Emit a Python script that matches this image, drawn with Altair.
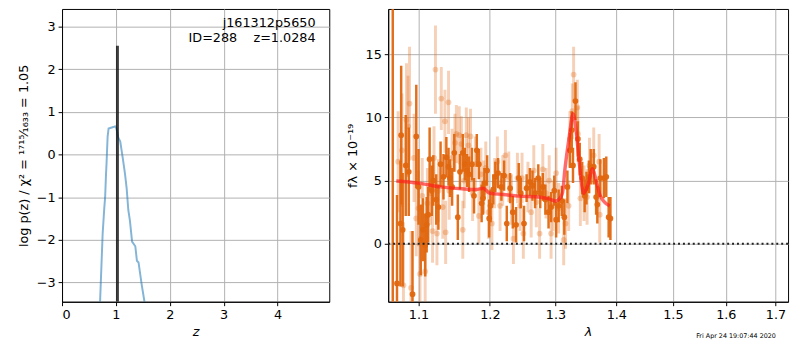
import altair as alt
import pandas as pd

FONT = "DejaVu Sans"
ORANGE = "#e0670f"

# ---------------- left panel: log p(z) ----------------
pz_z = [0.69, 0.706, 0.754, 0.785, 0.800, 0.815, 0.827, 0.846, 0.864, 0.937, 0.985, 1.01, 1.046,
        1.08, 1.13, 1.168, 1.20, 1.23, 1.26, 1.30, 1.36, 1.39, 1.42, 1.48, 1.53, 1.55]
pz_logp = [-3.9, -3.45, -1.85, -1.24, -1.0, -0.5, -0.18, 0.42, 0.61, 0.64, 0.66, 0.61, 0.39,
           0.31, -0.11, -0.45, -0.80, -1.30, -1.55, -2.04, -2.15, -2.49, -2.53, -3.06, -3.45, -3.7]
z_best = 1.0284
z_line_top = 2.55
z_ticks = [0, 1, 2, 3, 4]
logp_ticks = [-3, -2, -1, 0, 1, 2, 3]
z_domain = [0, 4.96]
logp_domain = [-3.45, 3.41]
label_root = "j161312p5650"
label_id = "ID=288\u00a0\u00a0\u00a0\u00a0z=1.0284"
ylab_left = "log p(z) / χ² = ¹⁷¹⁵⁄₁₆₃₃ = 1.05"

# ---------------- right panel: spectrum ----------------
dk_w = [1.066, 1.0715, 1.076, 1.077, 1.079, 1.083, 1.087, 1.092, 1.097, 1.100, 1.103, 1.106, 1.109,
        1.111, 1.113, 1.115, 1.118, 1.120, 1.124, 1.127, 1.130, 1.134, 1.138, 1.141, 1.143, 1.146,
        1.149, 1.154, 1.157, 1.161, 1.164, 1.167, 1.170, 1.174, 1.177, 1.181, 1.184, 1.188, 1.190,
        1.192, 1.196, 1.199, 1.201, 1.205, 1.208, 1.212, 1.217, 1.221, 1.225, 1.230, 1.234, 1.239,
        1.243, 1.246, 1.251, 1.255, 1.260, 1.264, 1.268, 1.273, 1.276, 1.280, 1.284, 1.289, 1.293,
        1.298, 1.301, 1.305, 1.310, 1.314, 1.319, 1.323, 1.326, 1.328, 1.332, 1.336, 1.339, 1.343,
        1.347, 1.350, 1.354, 1.357, 1.362, 1.366, 1.368, 1.373, 1.379, 1.383, 1.387, 1.390]
dk_f = [22.0, -3.15, 1.6, 8.6, 1.1, 6.2, 5.7, -4.0, 8.5, 4.5, 0.3, 1.1, -0.1,
        1.5, 2.3, 6.7, 4.2, 5.0, 3.5, 2.9, 6.3, 5.3, 6.85, 6.1, 5.2, 4.5,
        7.2, 2.1, 5.7, 7.2, 6.3, 5.8, 5.5, 6.3, 3.8, 7.4, 6.3, 3.2, 3.6,
        4.8, 5.8, 2.0, 3.0, 4.3, 5.3, 5.6, 4.5, 5.4, 1.6, 4.4, 2.5, 1.5,
        5.2, 4.0, 1.6, 4.4, 4.9, 4.6, 4.0, 5.2, 4.0, 4.5, 3.5, 2.5, 2.9,
        4.2, 1.9, 3.0, 3.4, 2.1, 4.5, 7.4, 9.0, 6.2, 11.3, 8.3, 6.7, 5.2,
        3.8, 4.4, 5.3, 6.1, 6.1, 3.7, 3.1, 5.2, 5.2, 5.3, 2.1, 2.0]
dk_e = [28.0, 7.0, 5.0, 5.5, 4.5, 4.0, 3.5, 5.0, 4.1, 3.0, 2.8, 2.5, 2.5,
        2.2, 2.2, 2.5, 2.0, 2.0, 2.0, 1.8, 1.8, 1.8, 1.6, 1.5, 1.5, 1.5,
        1.5, 1.8, 1.4, 1.5, 1.3, 1.3, 1.4, 1.3, 1.4, 1.3, 1.2, 1.5, 1.3,
        1.2, 1.2, 1.5, 1.3, 1.2, 1.2, 1.2, 1.1, 1.2, 1.4, 1.2, 1.3, 1.4,
        1.2, 1.2, 1.4, 1.1, 1.1, 1.2, 1.2, 1.1, 1.2, 1.1, 1.2, 1.3, 1.2,
        1.2, 1.4, 1.3, 1.2, 1.4, 1.3, 1.4, 1.5, 1.4, 1.5, 1.4, 1.3, 1.3,
        1.3, 1.3, 1.3, 1.4, 1.4, 1.4, 1.5, 1.5, 1.6, 1.6, 1.6, 1.7]

lt_w = [1.073, 1.078, 1.080, 1.084, 1.086, 1.088, 1.090, 1.094, 1.097, 1.100, 1.102, 1.105, 1.109,
        1.112, 1.116, 1.119, 1.121, 1.123, 1.125, 1.127, 1.131, 1.133, 1.136, 1.137, 1.141, 1.142,
        1.146, 1.150, 1.152, 1.156, 1.159, 1.161, 1.163, 1.166, 1.169, 1.172, 1.175, 1.179, 1.184,
        1.187, 1.191, 1.194, 1.198, 1.203, 1.207, 1.211, 1.215, 1.219, 1.223, 1.228, 1.232, 1.235,
        1.241, 1.245, 1.248, 1.250, 1.257, 1.262, 1.266, 1.270, 1.275, 1.280, 1.285, 1.290, 1.293,
        1.296, 1.301, 1.305, 1.313, 1.316, 1.321, 1.323, 1.327, 1.329, 1.335, 1.336, 1.340, 1.346,
        1.351, 1.355, 1.362, 1.371, 1.372]
lt_f = [6.5, 7.4, -3.3, 9.8, 9.3, 11.1, -3.5, 6.8, 2.0, 2.8, -2.4, 3.8, -2.2,
        3.2, 4.0, 1.0, 6.8, 13.8, 0.8, 4.2, 11.5, 2.9, 9.7, 0.9, 11.2, 4.2,
        6.8, 8.0, 8.7, 8.6, 7.9, 1.1, 5.0, 8.6, 7.8, 8.5, 4.0, 6.3, 2.2,
        5.5, 4.5, 6.0, 2.5, 1.6, 4.8, 6.5, 3.0, 5.0, 7.0, 5.3, 3.5, 0.4,
        5.2, 3.0, 5.2, 0.8, 4.5, 2.5, 5.8, 3.3, 0.8, 5.9, 4.0, 5.0, 0.8,
        3.0, 5.6, 2.8, 0.3, 1.6, 3.0, 8.3, 10.5, 13.4, 10.8, 8.7, 3.6, 4.0,
        3.7, 6.2, 7.0, 6.5, 2.3]
lt_e = [4.0, 4.5, 5.0, 4.5, 4.0, 4.5, 4.5, 3.5, 3.0, 3.0, 3.0, 3.0, 3.0,
        2.8, 2.5, 2.5, 2.5, 3.5, 2.5, 2.5, 2.5, 2.5, 2.5, 2.5, 2.5, 2.3,
        2.3, 2.3, 2.3, 2.3, 2.2, 2.3, 2.2, 2.2, 2.2, 2.2, 2.2, 2.2, 2.2,
        2.1, 2.1, 2.1, 2.1, 2.1, 2.0, 2.0, 2.0, 2.0, 2.0, 2.0, 2.0, 2.0,
        2.0, 2.0, 2.0, 2.0, 2.0, 2.0, 2.0, 2.0, 2.0, 2.0, 2.0, 2.0, 2.0,
        2.0, 2.0, 2.0, 2.0, 2.0, 2.0, 2.2, 2.2, 2.2, 2.2, 2.2, 2.2, 2.2,
        2.2, 2.2, 2.2, 2.2, 2.2]

m_w = [1.0706, 1.10, 1.13, 1.16, 1.18, 1.19, 1.20, 1.22, 1.243, 1.273, 1.29, 1.30, 1.305, 1.311,
       1.315, 1.322, 1.328, 1.333, 1.338, 1.3455, 1.352, 1.36, 1.366, 1.372, 1.38, 1.389]
m_f = [4.97, 4.8, 4.5, 4.35, 4.3, 4.4, 4.0, 3.9, 3.77, 3.7, 3.55, 3.38, 3.5, 4.0,
       5.9, 8.5, 10.3, 9.0, 6.5, 4.0, 4.6, 5.95, 5.0, 3.9, 3.3, 3.0]

w_ticks = [1.1, 1.2, 1.3, 1.4, 1.5, 1.6, 1.7]
f_ticks = [0, 5, 10, 15]
w_domain = [1.0601, 1.7262]
f_domain = [-4.6, 18.6]
stamp = "Fri Apr 24 19:07:44 2020"

# ---------------- build ----------------
LW, RW, H = 272, 407, 298

pz = pd.DataFrame({"z": pz_z, "logp": pz_logp})
zl = pd.DataFrame({"z": [z_best], "logp": [logp_domain[0]], "logp2": [z_line_top]})

zax = alt.Axis(values=z_ticks, format="d", title="z", titleFontStyle="italic", titlePadding=4)
pax = alt.Axis(values=logp_ticks, format="d", title=ylab_left, titlePadding=6)
zsc = alt.Scale(domain=z_domain, nice=False, zero=False)
psc = alt.Scale(domain=logp_domain, nice=False, zero=False)

left_line = alt.Chart(pz).mark_line(color="#1f77b4", opacity=0.55, strokeWidth=2, clip=True).encode(
    x=alt.X("z:Q", scale=zsc, axis=zax), y=alt.Y("logp:Q", scale=psc, axis=pax))
left_rule = alt.Chart(zl).mark_rule(color="black", opacity=0.75, strokeWidth=3, clip=True).encode(
    x=alt.X("z:Q", scale=zsc, axis=zax), y=alt.Y("logp:Q", scale=psc, axis=pax), y2="logp2:Q")
t1 = alt.Chart(pd.DataFrame({"t": [label_root]})).mark_text(
    align="right", baseline="middle", fontSize=13, font=FONT, color="black").encode(
    x=alt.value(258), y=alt.value(14), text="t:N")
t2 = alt.Chart(pd.DataFrame({"t": [label_id]})).mark_text(
    align="right", baseline="middle", fontSize=13, font=FONT, color="black").encode(
    x=alt.value(258), y=alt.value(30), text="t:N")
left = alt.layer(left_line, left_rule, t1, t2).properties(width=LW, height=H)

dk = pd.DataFrame({"w": dk_w, "f": dk_f, "e": dk_e})
dk["lo"] = dk["f"] - dk["e"]
dk["hi"] = dk["f"] + dk["e"]
lt = pd.DataFrame({"w": lt_w, "f": lt_f, "e": lt_e})
lt["lo"] = lt["f"] - lt["e"]
lt["hi"] = lt["f"] + lt["e"]
md = pd.DataFrame({"w": m_w, "f": m_f})

wsc = alt.Scale(type="log", domain=w_domain, nice=False, zero=False)
fsc = alt.Scale(domain=f_domain, nice=False, zero=False)
wax = alt.Axis(values=w_ticks, format=".1f", title="λ", titleFontStyle="italic", titlePadding=4)
fax = alt.Axis(values=f_ticks, format="d", title="fλ × 10⁻¹⁹", titlePadding=6)
X = alt.X("w:Q", scale=wsc, axis=wax)
Y = alt.Y("f:Q", scale=fsc, axis=fax)
YLO = alt.Y("lo:Q", scale=fsc, axis=fax)

lt_bar = alt.Chart(lt).mark_rule(color=ORANGE, opacity=0.3, strokeWidth=3, clip=True).encode(x=X, y=YLO, y2="hi:Q")
lt_pt = alt.Chart(lt).mark_circle(color=ORANGE, opacity=0.3, size=34, clip=True).encode(x=X, y=Y)
dk_bar = alt.Chart(dk).mark_rule(color=ORANGE, opacity=0.95, strokeWidth=2.5, clip=True).encode(x=X, y=YLO, y2="hi:Q")
dk_pt = alt.Chart(dk).mark_circle(color=ORANGE, opacity=0.95, size=34, clip=True).encode(x=X, y=Y)
model = alt.Chart(md).mark_line(color="#ff1a1a", opacity=0.65, strokeWidth=3.5, clip=True,
                                interpolate="monotone").encode(x=X, y=Y)
zero = alt.Chart(pd.DataFrame({"f": [0]})).mark_rule(color="#222222", strokeWidth=2, strokeDash=[2, 3]).encode(y=Y)
ts = alt.Chart(pd.DataFrame({"t": [stamp]})).mark_text(fontSize=6.5, font=FONT, color="black",
                                                       align="center", baseline="middle").encode(
    x=alt.value(354), y=alt.value(333), text="t:N")
right = alt.layer(lt_bar, lt_pt, dk_bar, dk_pt, model, zero, ts).properties(width=RW, height=H)

chart = alt.hconcat(left, right, spacing=15).properties(
    padding={"left": 9, "top": -3, "right": 2, "bottom": 0},
    background="white",
).configure_view(stroke="black", strokeWidth=1).configure_axis(
    domainColor="black", domainWidth=1, tickColor="black", tickSize=4, tickWidth=1,
    gridColor="#b0b0b0", gridWidth=1, labelColor="black", labelFont=FONT, labelFontSize=13,
    titleFont=FONT, titleFontSize=13, titleFontWeight="normal", titleColor="black", labelPadding=3,
)

chart.save("out.html", embed_options={"renderer": "svg", "actions": False})
